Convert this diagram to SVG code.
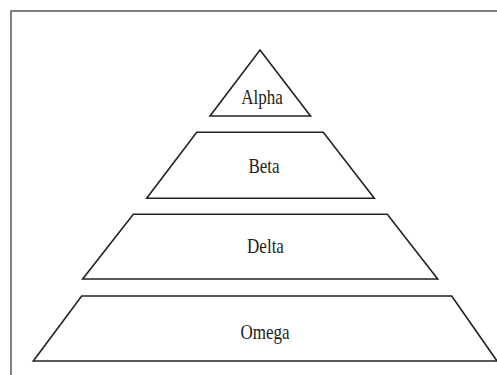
<svg xmlns="http://www.w3.org/2000/svg" width="497" height="375" viewBox="0 0 497 375">
<style>
.sh{fill:#fff;stroke:#222;stroke-width:1.6;stroke-linejoin:miter}
.lb{font-family:"Liberation Serif","Times New Roman",serif;font-size:17px;fill:#222;text-anchor:middle}
</style>
<rect x="0" y="0" width="497" height="375" fill="#fff"/>
<rect id="frame" x="11" y="11" width="500" height="380" fill="none" stroke="#555" stroke-width="1.5"/>
<g id="alpha">
<polygon class="sh" points="260,50 310.5,116 210,116"/>
<text class="lb" transform="translate(262,104) scale(1,1.25)">Alpha</text>
</g>
<g id="beta">
<polygon class="sh" points="196.7,132.3 323.3,132.3 374.3,198.3 146.7,198.3"/>
<text class="lb" transform="translate(264,173) scale(1,1.25)">Beta</text>
</g>
<g id="delta">
<polygon class="sh" points="133.3,214.3 387.3,214.3 437.7,279 82.7,279"/>
<text class="lb" transform="translate(265.5,253) scale(1,1.25)">Delta</text>
</g>
<g id="omega">
<polygon class="sh" points="81.7,296 451.7,296 497,361 33.3,361"/>
<text class="lb" transform="translate(265,339) scale(1,1.25)">Omega</text>
</g>
<g id="connectors"></g>
</svg>
